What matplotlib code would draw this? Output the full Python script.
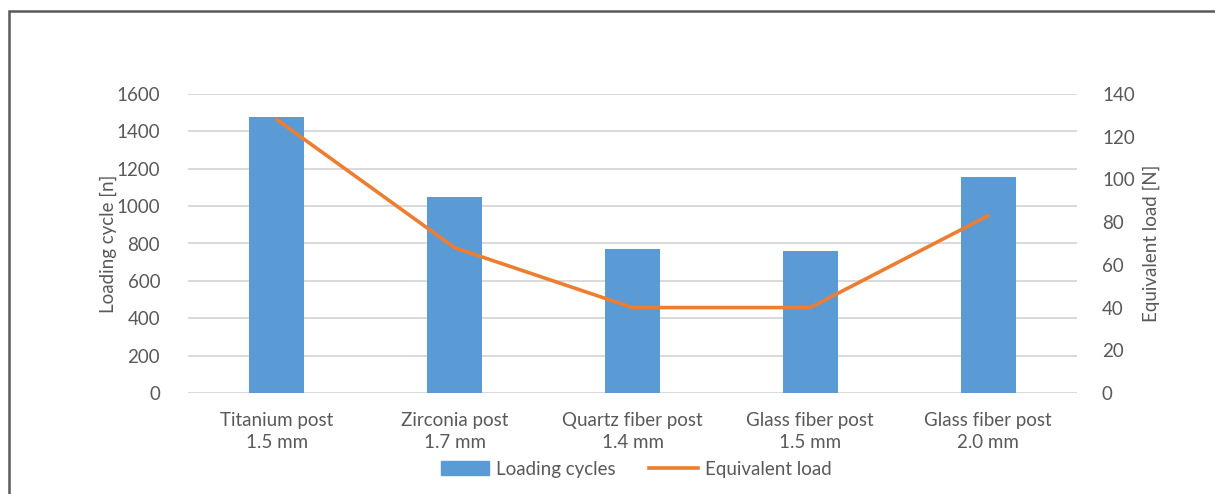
import numpy as np
import matplotlib.pyplot as plt
from matplotlib.patches import Rectangle
from matplotlib.lines import Line2D

plt.rcParams['font.family'] = ['Lato', 'DejaVu Sans']

categories = ['Titanium post\n1.5 mm', 'Zirconia post\n1.7 mm', 'Quartz fiber post\n1.4 mm',
              'Glass fiber post\n1.5 mm', 'Glass fiber post\n2.0 mm']
loading_cycles = [1478, 1047, 769, 760, 1157]
equivalent_load = [128, 68, 40, 40, 83]
left_ticks = [0, 200, 400, 600, 800, 1000, 1200, 1400, 1600]
right_ticks = [0, 20, 40, 60, 80, 100, 120, 140]

bar_color = '#5B9BD5'
line_color = '#ED7D31'
text_color = '#595959'
grid_color = '#D9D9D9'
fs = 13.5

fig = plt.figure(figsize=(12.15, 4.94), dpi=100)
ax = fig.add_axes([188 / 1215, 1 - 393 / 494, (1077 - 188) / 1215, (393 - 94) / 494])
ax2 = ax.twinx()

x = np.arange(len(categories))
ax.bar(x, loading_cycles, width=0.31, color=bar_color, zorder=2)
ax2.plot(x, equivalent_load, color=line_color, lw=2.6, solid_capstyle='round', zorder=3)

ax.set_xlim(-0.5, len(categories) - 0.5)
ax.set_ylim(0, 1600)
ax2.set_ylim(0, 140)
ax.set_yticks(left_ticks)
ax2.set_yticks(right_ticks)
ax.set_xticks(x)
ax.set_xticklabels(categories, linespacing=1.3)

for a in (ax, ax2):
    for s in a.spines.values():
        s.set_visible(False)
    a.tick_params(length=0, colors=text_color, labelsize=fs)
ax.tick_params(axis='y', pad=20)
ax2.tick_params(axis='y', pad=18)
ax.tick_params(axis='x', pad=14)
ax.yaxis.grid(True, color=grid_color, lw=1.4, zorder=0)
ax.set_axisbelow(True)

ax.set_ylabel('Loading cycle [n]', color=text_color, fontsize=fs, labelpad=0)
ax2.set_ylabel('Equivalent load [N]', color=text_color, fontsize=fs, labelpad=6)

handles = [Rectangle((0, 0), 1, 1, color=bar_color),
           Line2D([0], [0], color=line_color, lw=2.6)]
fig.legend(handles, ['Loading cycles', 'Equivalent load'], loc='center',
           bbox_to_anchor=(636 / 1215, 1 - 469 / 494), ncol=2, frameon=False,
           fontsize=fs, labelcolor=text_color, handlelength=2.6, handletextpad=0.35,
           columnspacing=1.8)

# chart border (left and top edges visible, the rest cut off)
fig.add_artist(Rectangle((9 / 1215, -0.1), 1.2, 1.1 - 11 / 494, transform=fig.transFigure,
                         fill=False, edgecolor='#595959', lw=1.8))

fig.savefig('out.png', dpi=100, facecolor='white')
